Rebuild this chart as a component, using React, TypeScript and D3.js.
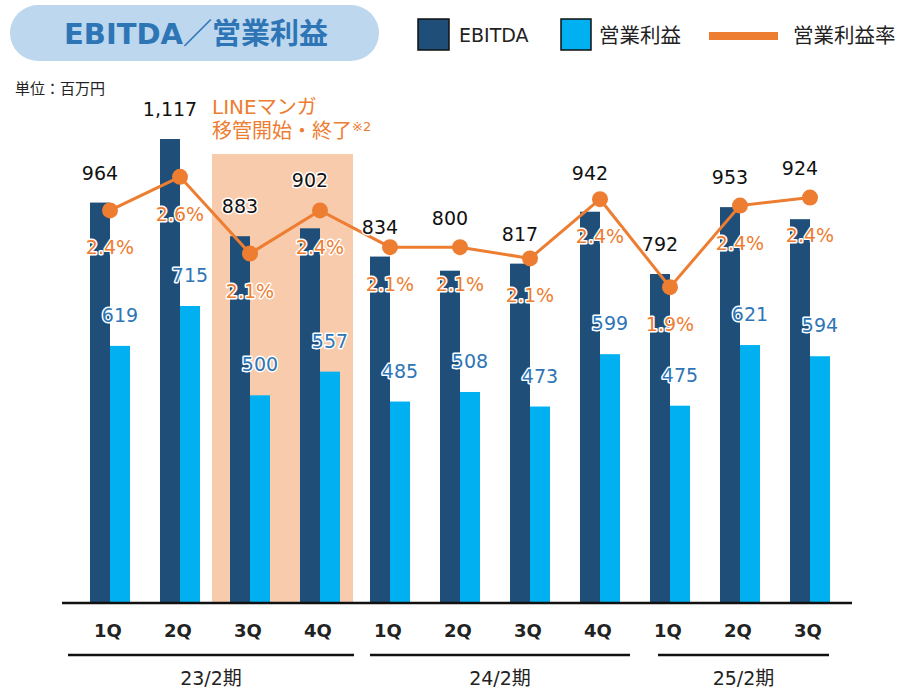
import React from 'react';
import { scaleBand, scaleLinear, line } from 'd3';

// quarters and fiscal periods
const quarters = ['1Q', '2Q', '3Q', '4Q', '1Q', '2Q', '3Q', '4Q', '1Q', '2Q', '3Q'];
const periods = ['23/2期', '24/2期', '25/2期'];
const periodOf = [0, 0, 0, 0, 1, 1, 1, 1, 2, 2, 2];

// values (百万円)
const ebitda = [964, 1117, 883, 902, 834, 800, 817, 942, 792, 953, 924];
const opIncome = [619, 715, 500, 557, 485, 508, 473, 599, 475, 621, 594];
// 営業利益率 (%)
const opMargin = [2.36, 2.57, 2.09, 2.36, 2.13, 2.13, 2.06, 2.43, 1.88, 2.39, 2.44];

// LINEマンガ移管 highlighted quarters
const highlight = [2, 3];

// extra lift for EBITDA labels that would collide with the line
const ebitdaLabelLift = [0, 0, 0, 18, 0, 23, 0, 9, 0, 0, 21];
// period underline insets (start, end) relative to the quarter bands
const periodInset = [[-7, -1], [15, -5], [23, -16]];

const W = 903;
const H = 688;
const FONT = "'DejaVu Sans', 'Noto Sans CJK JP', sans-serif";
const DARK = '#1F4E79';
const LIGHT = '#00B0F0';
const ORANGE = '#ED7D31';
const LBLUE = '#2E75B6';

const App = () => {
    const idx = quarters.map((_, i) => i);
    const x = scaleBand<number>().domain(idx).range([75, 845]).padding(0);
    const center = (i: number) => (x(i) as number) + x.step() / 2;
    const barW = 20;
    const baseY = 603;
    const y = scaleLinear().domain([0, 1300]).range([baseY, baseY - 540]);
    const yRate = scaleLinear().domain([0, 3]).range([588, 108]);

    const ratePath = line<number>()
        .x((_, i) => center(i))
        .y(d => yRate(d))(opMargin) as string;

    const halo = { stroke: 'white', strokeWidth: 3, paintOrder: 'stroke', strokeLinejoin: 'round' as const };

    const hx0 = (x(highlight[0]) as number) - 3;
    const hx1 = (x(highlight[highlight.length - 1]) as number) + x.step() - 2;

    return (
        <svg width={W} height={H} style={{ position: 'absolute', left: 0, top: 0 }} fontFamily={FONT}>
            {/* title pill */}
            <rect x={10} y={5} width={369} height={56} rx={28} fill="#BDD7EE" />
            <text x={196} y={44} textAnchor="middle" fontSize={29} fontWeight="bold" fill={LBLUE}>EBITDA／営業利益</text>

            {/* legend */}
            <rect x={418} y={19} width={31} height={31} fill={DARK} stroke="#111" strokeWidth={1.5} />
            <text x={459} y={42} fontSize={19} fill="#222">EBITDA</text>
            <rect x={561} y={19} width={30} height={31} fill={LIGHT} stroke="#111" strokeWidth={1.5} />
            <text x={599} y={43} fontSize={20.5} fill="#222">営業利益</text>
            <line x1={709} x2={778} y1={36} y2={36} stroke={ORANGE} strokeWidth={8} />
            <text x={793} y={43} fontSize={20.5} fill="#222">営業利益率</text>

            <text x={15} y={94} fontSize={15} fill="#222">単位：百万円</text>

            {/* highlight band */}
            <rect x={hx0} y={154} width={hx1 - hx0} height={baseY - 154} fill="#F8CBAD" />
            <text x={212} y={114} fontSize={20} fill={ORANGE}>LINEマンガ</text>
            <text x={212} y={138} fontSize={20} fill={ORANGE}>
                移管開始・終了<tspan fontSize={13} dy={-7}>※2</tspan>
            </text>

            {/* bars */}
            {ebitda.map((v, i) => (
                <rect key={'e' + i} x={center(i) - barW} y={y(v)} width={barW} height={baseY - y(v)} fill={DARK} />
            ))}
            {opIncome.map((v, i) => (
                <rect key={'o' + i} x={center(i)} y={y(v)} width={barW} height={baseY - y(v)} fill={LIGHT} />
            ))}

            {/* axis */}
            <line x1={62} x2={852} y1={baseY} y2={baseY} stroke="#111" strokeWidth={2.5} />

            {/* margin line */}
            <path d={ratePath} fill="none" stroke={ORANGE} strokeWidth={3} />
            {opMargin.map((v, i) => (
                <circle key={'c' + i} cx={center(i)} cy={yRate(v)} r={8} fill={ORANGE} />
            ))}

            {/* labels */}
            {ebitda.map((v, i) => (
                <text key={'el' + i} x={center(i) - barW / 2} y={y(v) - 30 - ebitdaLabelLift[i] + 7}
                    textAnchor="middle" fontSize={19} fill="#111" {...halo}>
                    {v.toLocaleString('en-US')}
                </text>
            ))}
            {opIncome.map((v, i) => (
                <text key={'ol' + i} x={center(i) + barW / 2} y={y(v) - 31 + 7}
                    textAnchor="middle" fontSize={19} fill={LBLUE} {...halo}>
                    {v}
                </text>
            ))}
            {opMargin.map((v, i) => (
                <text key={'rl' + i} x={center(i)} y={yRate(v) + 37 + 7}
                    textAnchor="middle" fontSize={19} fill={ORANGE} {...halo}>
                    {v.toFixed(1) + '%'}
                </text>
            ))}

            {/* quarter labels */}
            {quarters.map((q, i) => (
                <text key={'q' + i} x={center(i) - 2} y={637} textAnchor="middle" fontSize={18} fontWeight="bold" fill="#222">{q}</text>
            ))}

            {/* periods */}
            {periods.map((p, k) => {
                const members = idx.filter(i => periodOf[i] === k);
                const x0 = (x(members[0]) as number) + periodInset[k][0];
                const x1 = (x(members[members.length - 1]) as number) + x.step() + periodInset[k][1];
                return (
                    <g key={'p' + k}>
                        <line x1={x0} x2={x1} y1={655} y2={655} stroke="#111" strokeWidth={2.5} />
                        <text x={(x0 + x1) / 2} y={685} textAnchor="middle" fontSize={19} fill="#222">{p}</text>
                    </g>
                );
            })}
        </svg>
    );
};

export default App;
